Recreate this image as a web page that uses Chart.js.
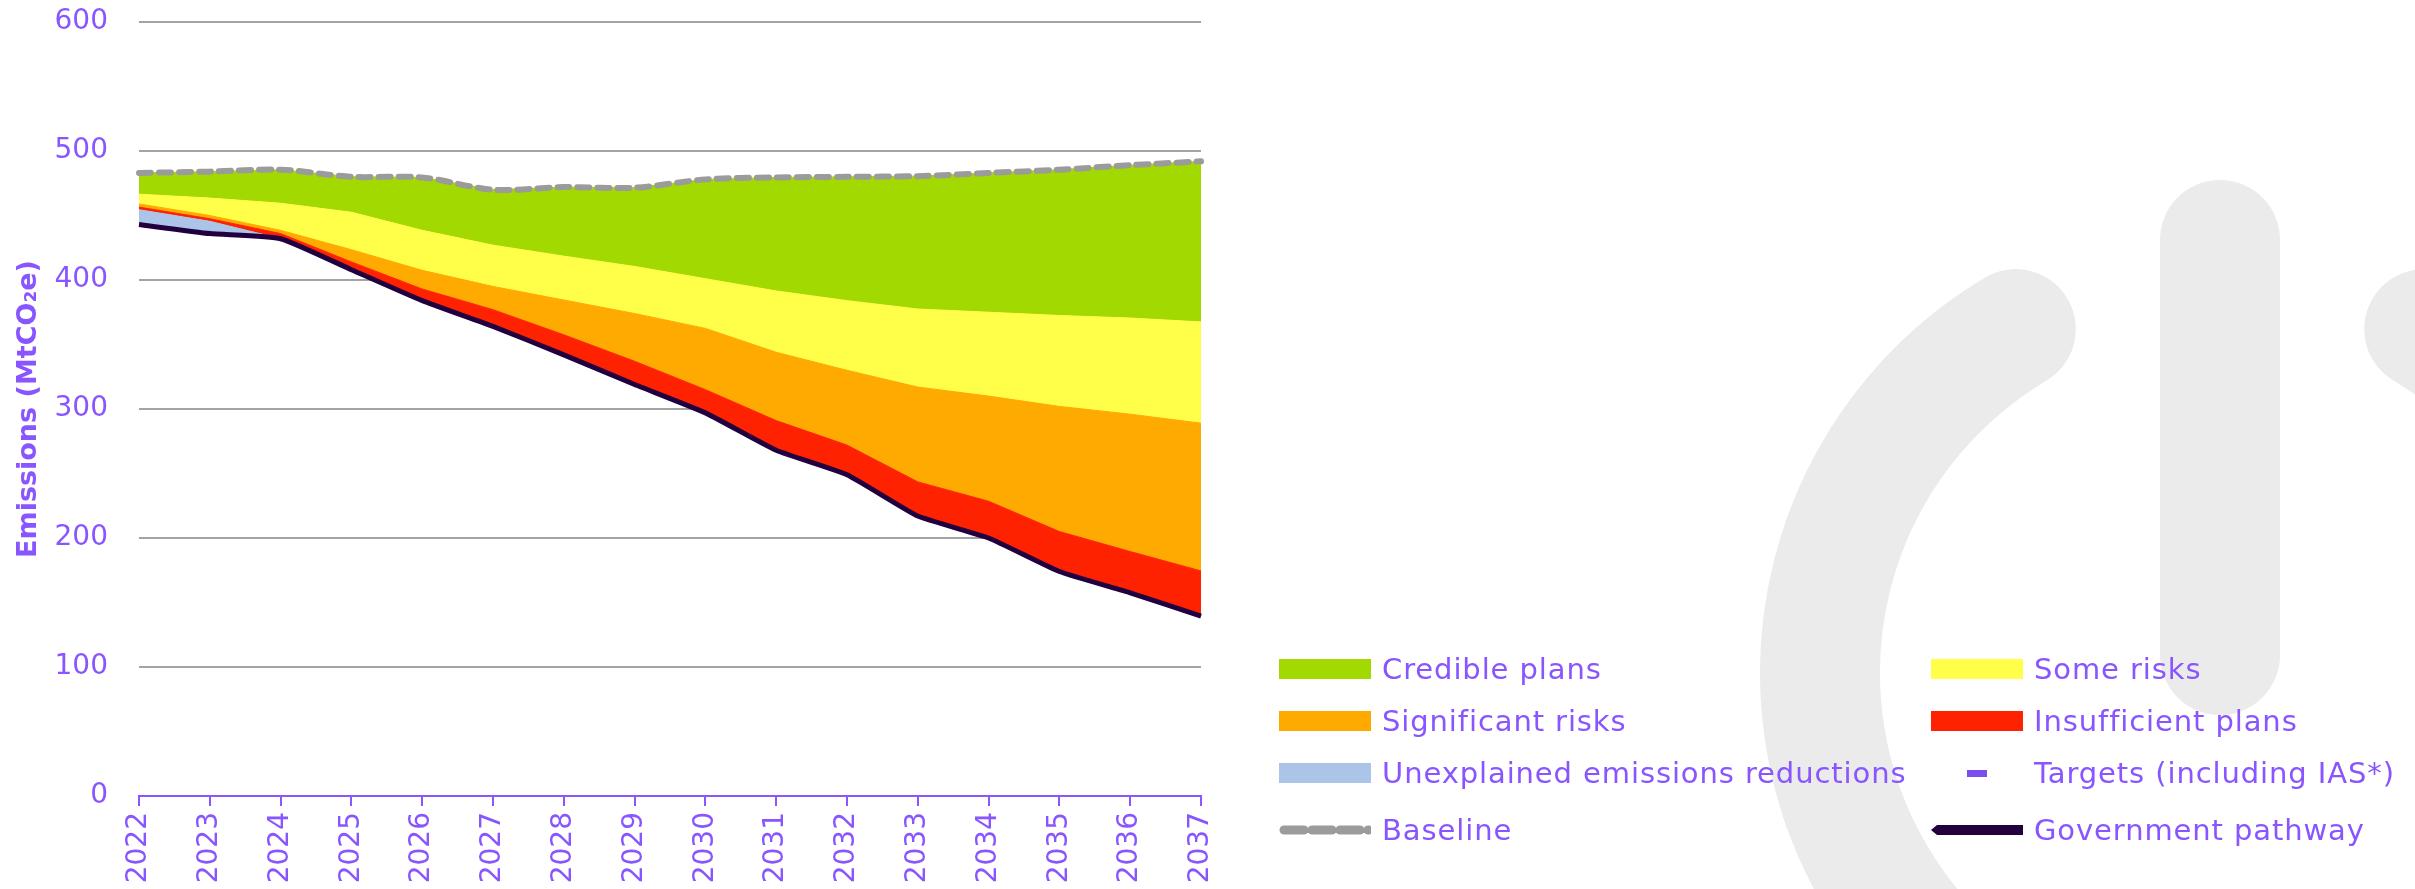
<!DOCTYPE html>
<html>
<head>
<meta charset="utf-8">
<title>Emissions pathway by delivery risk</title>
<script src="https://cdn.jsdelivr.net/npm/chart.js@4.4.1/dist/chart.umd.min.js"></script>
<style>
    body { margin: 0; background: #ffffff; }
    #wrap { position: relative; width: 2415px; height: 889px; overflow: hidden; }
    .legend-item {
        position: absolute;
        display: flex;
        align-items: center;
        transform: translateY(-50%);
        font-family: "DejaVu Sans", sans-serif;
        font-size: 29px;
        letter-spacing: 0.9px;
        color: #8855ff;
        white-space: nowrap;
    }
    .legend-item .key { width: 92px; height: 20px; margin-right: 11px; flex: none; }
</style>
</head>
<body>
<div id="wrap">
    <canvas id="emissionsChart" width="2415" height="889"></canvas>
</div>
<script>
// Values (MtCO2e), bands stacked on top of the government pathway
const years = ['2022', '2023', '2024', '2025', '2026', '2027', '2028', '2029',
               '2030', '2031', '2032', '2033', '2034', '2035', '2036', '2037'];
const governmentPathway = [443, 436, 432, 408, 384, 364, 342, 319, 297, 268, 249, 217, 200, 174, 157.5, 139.5];
const unexplainedReductions = [11.5, 9.5, 0, 0, 0, 0, 0, 0, 0, 0, 0, 0, 0, 0, 0, 0];
const insufficientPlans = [2, 2, 4, 6, 9, 13, 15.5, 18, 18, 23, 23, 26.5, 28.5, 31, 32, 35];
const significantRisks = [2.5, 2.5, 2.5, 9.5, 14.5, 18, 27, 37, 47.5, 53, 58, 73.5, 81.5, 97, 106.5, 114.5];
const someRisks = [7.5, 13.5, 21, 29, 31, 32, 34, 36.5, 38.5, 47.5, 54, 60.5, 65, 70.5, 74.5, 78.5];
const crediblePlans = [16.5, 20.5, 26, 27.5, 41, 43, 53.5, 61, 77, 88, 96, 103, 108, 113, 118.5, 124.5];
const baseline = [483, 484, 485.5, 480, 479.5, 470, 472, 471.5, 478, 479.5, 480, 480.5, 483, 485.5, 489, 492];
const yTicks = [0, 100, 200, 300, 400, 500, 600];

const PURPLE = '#8855ff';
const COLORS = {
    credible: '#a2d900',
    some: '#ffff4a',
    significant: '#ffaa00',
    insufficient: '#ff2200',
    unexplained: '#abc4e8',
    baseline: '#9b9b9b',
    government: '#220040',
    targets: '#7a4df0'
};

// Faint logo shapes in the background
const watermark = {
    id: 'watermark',
    beforeDraw(chart) {
        const ctx = chart.ctx;
        const rad = d => d * Math.PI / 180;
        ctx.save();
        ctx.strokeStyle = '#ebebeb';
        ctx.lineWidth = 120;
        ctx.lineCap = 'round';
        ctx.beginPath();
        ctx.arc(2220, 673, 400, rad(239.3), rad(-59.3), true);
        ctx.stroke();
        ctx.beginPath();
        ctx.moveTo(2220, 240);
        ctx.lineTo(2220, 655);
        ctx.stroke();
        ctx.restore();
    }
};

function band(label, data, color) {
    return {
        label: label,
        data: data,
        fill: '-1',
        backgroundColor: color,
        borderColor: color,
        borderWidth: 1,
        pointRadius: 0,
        tension: 0
    };
}

new Chart(document.getElementById('emissionsChart'), {
    type: 'line',
    data: {
        labels: years,
        datasets: [
            {
                label: 'Government pathway',
                data: governmentPathway,
                fill: false,
                borderColor: COLORS.government,
                borderWidth: 5,
                pointRadius: 0,
                tension: 0.15
            },
            band('Unexplained emissions reductions', unexplainedReductions, COLORS.unexplained),
            band('Insufficient plans', insufficientPlans, COLORS.insufficient),
            band('Significant risks', significantRisks, COLORS.significant),
            band('Some risks', someRisks, COLORS.some),
            band('Credible plans', crediblePlans, COLORS.credible),
            {
                label: 'Baseline',
                data: baseline,
                stack: 'baseline',
                order: -1,
                fill: false,
                borderColor: COLORS.baseline,
                borderWidth: 6,
                borderDash: [12, 8],
                borderCapStyle: 'round',
                pointRadius: 0,
                tension: 0.3
            }
        ]
    },
    options: {
        responsive: false,
        devicePixelRatio: 1,
        animation: false,
        layout: { padding: { top: 22, right: 1214, left: 0, bottom: 0 } },
        plugins: {
            legend: { display: false },
            tooltip: { enabled: false }
        },
        scales: {
            x: {
                grid: { drawOnChartArea: false, drawTicks: true, tickLength: 10, color: PURPLE, lineWidth: 2 },
                border: { color: PURPLE, width: 2 },
                ticks: {
                    color: PURPLE,
                    font: { family: 'DejaVu Sans', size: 28 },
                    minRotation: 90,
                    maxRotation: 90,
                    autoSkip: false,
                    padding: 6
                },
                afterFit: s => { s.height = 93; }
            },
            y: {
                stacked: true,
                min: 0,
                max: 600,
                afterBuildTicks: s => { s.ticks = yTicks.map(v => ({ value: v })); },
                ticks: {
                    color: PURPLE,
                    font: { family: 'DejaVu Sans', size: 28 },
                    padding: 0
                },
                // invisible tick marks keep the labels clear of the plot
                grid: { color: '#a3a3a3', lineWidth: 2, drawTicks: true, tickLength: 31, tickColor: 'rgba(0,0,0,0)' },
                border: { display: false },
                title: {
                    display: true,
                    text: 'Emissions (MtCO₂e)',
                    color: PURPLE,
                    font: { family: 'DejaVu Sans', size: 27, weight: 'bold' },
                    padding: { top: 13, bottom: 0 }
                },
                afterFit: s => { s.width = 139; }
            }
        }
    },
    plugins: [watermark]
});

// Legend, two columns at the right of the plot
const legendItems = [
    { label: 'Credible plans', kind: 'box', color: COLORS.credible, col: 0, row: 0 },
    { label: 'Some risks', kind: 'box', color: COLORS.some, col: 1, row: 0 },
    { label: 'Significant risks', kind: 'box', color: COLORS.significant, col: 0, row: 1 },
    { label: 'Insufficient plans', kind: 'box', color: COLORS.insufficient, col: 1, row: 1 },
    { label: 'Unexplained emissions reductions', kind: 'box', color: COLORS.unexplained, col: 0, row: 2 },
    { label: 'Targets (including IAS*)', kind: 'dash', color: COLORS.targets, col: 1, row: 2 },
    { label: 'Baseline', kind: 'dashed', color: COLORS.baseline, col: 0, row: 3 },
    { label: 'Government pathway', kind: 'line', color: COLORS.government, col: 1, row: 3 }
];
const colLeft = [1279, 1931];
const rowTop = [669, 721, 773, 830];

const wrap = document.getElementById('wrap');
legendItems.forEach(item => {
    const el = document.createElement('div');
    el.className = 'legend-item';
    el.style.left = colLeft[item.col] + 'px';
    el.style.top = rowTop[item.row] + 'px';
    let key;
    if (item.kind === 'box') {
        key = `<div class="key" style="background:${item.color}"></div>`;
    } else if (item.kind === 'dash') {
        key = `<svg class="key" viewBox="0 0 92 20"><rect x="36" y="7" width="20" height="7" fill="${item.color}"/></svg>`;
    } else if (item.kind === 'dashed') {
        key = `<svg class="key" viewBox="0 0 92 20"><line x1="5" y1="10" x2="90" y2="10" stroke="${item.color}"
                 stroke-width="9" stroke-dasharray="20 8" stroke-linecap="round"/></svg>`;
    } else {
        key = `<svg class="key" viewBox="0 0 92 20"><polygon points="0,10 6,5 92,5 92,15 6,15" fill="${item.color}"/></svg>`;
    }
    el.innerHTML = key + `<span>${item.label}</span>`;
    wrap.appendChild(el);
});
</script>
</body>
</html>
